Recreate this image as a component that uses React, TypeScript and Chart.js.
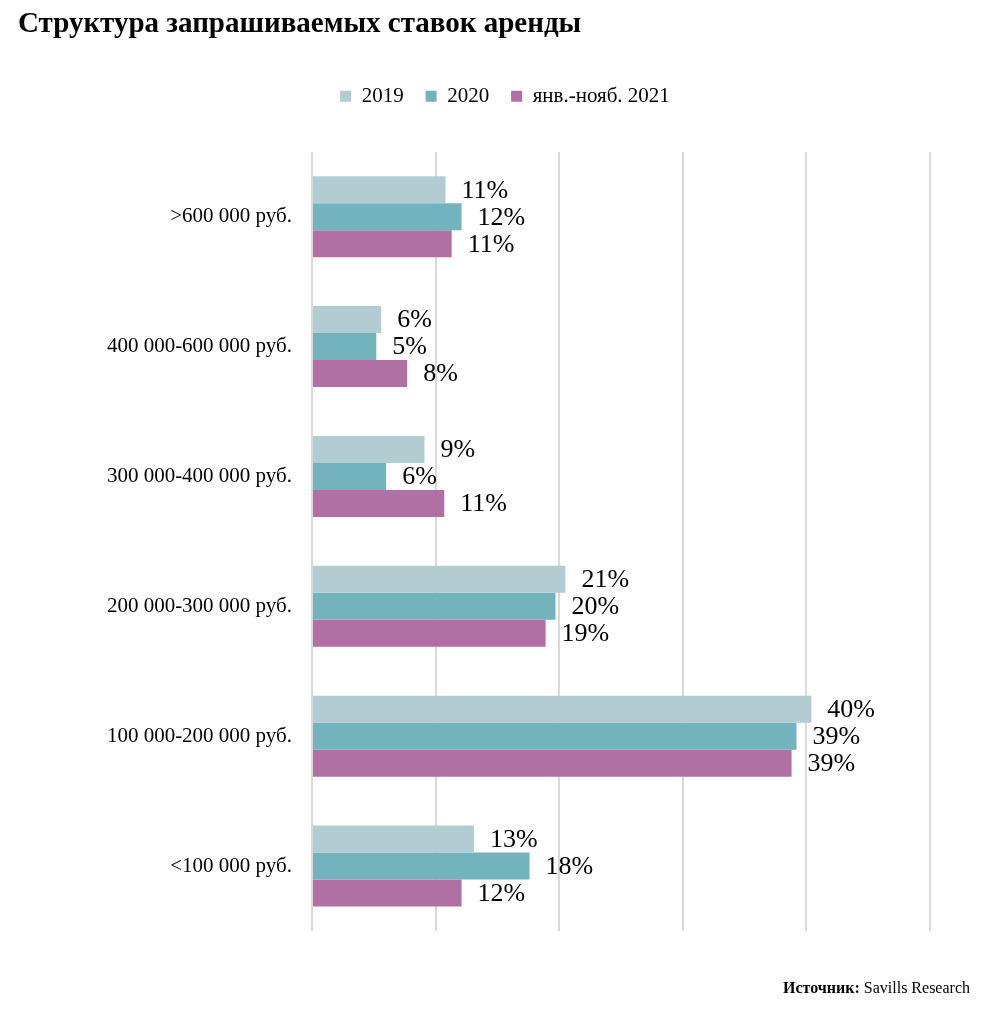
import React, { useEffect, useRef } from "react";
import { Chart, registerables } from "chart.js";

Chart.register(...registerables);

const categories = [
  ">600 000 руб.",
  "400 000-600 000 руб.",
  "300 000-400 000 руб.",
  "200 000-300 000 руб.",
  "100 000-200 000 руб.",
  "<100 000 руб.",
];
const seriesNames = ["2019", "2020", "янв.-нояб. 2021"];
const values2019 = [10.8, 5.6, 9.1, 20.5, 40.4, 13.1];
const values2020 = [12.1, 5.2, 6.0, 19.7, 39.2, 17.6];
const values2021 = [11.3, 7.7, 10.7, 18.9, 38.8, 12.1];
const xTicks = [0, 10, 20, 30, 40, 50];

const colors = ["#b1cdd1", "#72b3be", "#b070a3"];
const FONT = "'Liberation Serif', 'Times New Roman', serif";

const dataLabelPlugin = {
  id: "dataLabels",
  afterDatasetsDraw(chart: any) {
    const ctx = chart.ctx;
    ctx.save();
    ctx.font = `26px ${FONT}`;
    ctx.fillStyle = "#000";
    ctx.textAlign = "left";
    ctx.textBaseline = "middle";
    chart.data.datasets.forEach((ds: any, i: number) => {
      const meta = chart.getDatasetMeta(i);
      meta.data.forEach((el: any, j: number) => {
        const v = ds.data[j];
        ctx.fillText(`${Math.round(v)}%`, el.x + 16, el.y + 1);
      });
    });
    ctx.restore();
  },
};

const legendShiftPlugin = {
  id: "legendShift",
  afterLayout(chart: any) {
    const lg = chart.legend;
    if (lg) {
      lg.left += 31;
      lg.right += 31;
    }
  },
};

const sourcePlugin = {
  id: "sourceNote",
  afterDraw(chart: any) {
    const ctx = chart.ctx;
    ctx.save();
    ctx.fillStyle = "#000";
    ctx.textBaseline = "alphabetic";
    ctx.textAlign = "right";
    const right = 970;
    const y = 993;
    ctx.font = `16px ${FONT}`;
    const rest = " Savills Research";
    ctx.fillText(rest, right, y);
    const w = ctx.measureText(rest).width;
    ctx.font = `bold 16px ${FONT}`;
    ctx.fillText("Источник:", right - w, y);
    ctx.restore();
  },
};

export default function App() {
  const ref = useRef<HTMLCanvasElement | null>(null);

  useEffect(() => {
    if (!ref.current) return;
    const chart = new Chart(ref.current, {
      type: "bar",
      data: {
        labels: categories,
        datasets: [values2019, values2020, values2021].map((d, i) => ({
          label: seriesNames[i],
          data: d,
          backgroundColor: colors[i],
          borderWidth: 0,
          categoryPercentage: 0.624,
          barPercentage: 1,
        })),
      },
      options: {
        indexAxis: "y",
        animation: false,
        responsive: true,
        maintainAspectRatio: false,
        layout: { padding: { left: 18, right: 66, top: 0, bottom: 89 } },
        plugins: {
          title: {
            display: true,
            text: "Структура запрашиваемых ставок аренды",
            align: "start",
            color: "#000",
            font: { family: FONT, size: 29, weight: "bold" },
            padding: { top: 7, bottom: 22 },
          },
          legend: {
            display: true,
            position: "top",
            align: "center",
            labels: {
              color: "#000",
              font: { family: FONT, size: 21 },
              boxWidth: 11,
              boxHeight: 11,
              padding: 22,
            },
          },
          tooltip: { enabled: false },
        },
        scales: {
          x: {
            position: "top",
            min: xTicks[0],
            max: xTicks[xTicks.length - 1],
            afterBuildTicks: (s: any) => {
              s.ticks = xTicks.map((v) => ({ value: v }));
            },
            afterFit: (s: any) => {
              s.height = 35;
            },
            ticks: { display: false },
            grid: { color: "#d9d9d9", lineWidth: 2, drawTicks: false },
            border: { display: false },
          },
          y: {
            afterFit: (s: any) => {
              s.width = 294;
            },
            ticks: {
              color: "#000",
              font: { family: FONT, size: 21 },
              padding: 20,
            },
            grid: { display: false, drawTicks: false },
            border: { display: false },
          },
        },
      },
      plugins: [dataLabelPlugin, legendShiftPlugin, sourcePlugin],
    });
    return () => chart.destroy();
  }, []);

  return (
    <div style={{ position: "absolute", left: 0, top: 0, width: 996, height: 1020, background: "#fff" }}>
      <canvas ref={ref} />
    </div>
  );
}
